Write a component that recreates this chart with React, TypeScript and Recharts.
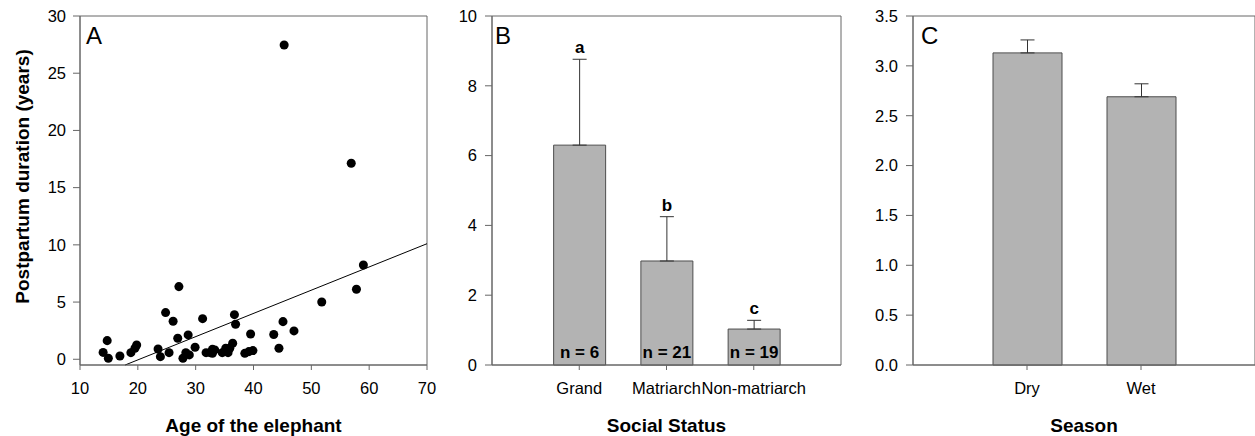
import {
  ScatterChart,
  Scatter,
  ComposedChart,
  Bar,
  ErrorBar,
  LabelList,
  XAxis,
  YAxis,
  ZAxis,
  ReferenceArea,
  ReferenceLine,
} from "recharts";

const FONT = "'Liberation Sans', Arial, Helvetica, sans-serif";
const AXIS = "#666";
const BAR_FILL = "#b3b3b3";
const BAR_STROKE = "#4d4d4d";

// Panel A: postpartum duration vs age
const ages = [
  14.0, 14.7, 14.9, 16.9, 18.8, 19.5, 19.8, 23.5, 23.9, 24.8, 25.4, 26.1,
  27.1, 26.9, 27.8, 28.3, 28.7, 28.9, 29.9, 31.2, 31.8, 32.5, 32.9, 32.9,
  33.3, 34.6, 35.2, 35.6, 35.9, 36.4, 36.7, 36.9, 38.5, 39.2, 39.5, 39.9,
  43.5, 44.4, 45.1, 45.3, 47.0, 51.8, 56.9, 57.8, 59.0,
];
const durations = [
  0.6, 1.63, 0.09, 0.29, 0.58, 0.96, 1.25, 0.9, 0.23, 4.08, 0.58, 3.32,
  6.35, 1.84, 0.09, 0.58, 2.13, 0.38, 1.05, 3.55, 0.58, 0.58, 0.87, 0.52,
  0.82, 0.58, 0.96, 0.58, 0.96, 1.4, 3.9, 3.06, 0.52, 0.67, 2.21, 0.76,
  2.16, 0.96, 3.29, 27.47, 2.48, 5.01, 17.13, 6.12, 8.24,
];
const fitLine = [
  { age: 17.8, duration: -0.5 },
  { age: 70, duration: 10.1 },
];
const ageTicks = [10, 20, 30, 40, 50, 60, 70];
const durationTicks = [0, 5, 10, 15, 20, 25, 30];

// Panel B: social status
const statusLabels = ["Grand", "Matriarch", "Non-matriarch"];
const statusMeans = [6.3, 2.98, 1.03];
const statusErrors = [2.46, 1.27, 0.25];
const statusN = [6, 21, 19];
const statusGroups = ["a", "b", "c"];
const statusTicks = [0, 2, 4, 6, 8, 10];

// Panel C: season
const seasonLabels = ["Dry", "Wet"];
const seasonMeans = [3.13, 2.69];
const seasonErrors = [0.13, 0.13];
const seasonTicks = [0, 0.5, 1, 1.5, 2, 2.5, 3, 3.5];

const scatterData = ages.map((age, i) => ({ age, duration: durations[i] }));

const statusData = statusLabels.map((name, i) => ({
  pos: i + 1,
  name,
  mean: statusMeans[i],
  err: [0, statusErrors[i]],
  n: statusN[i],
  group: statusGroups[i],
}));

const seasonData = seasonLabels.map((name, i) => ({
  pos: i + 1,
  name,
  mean: seasonMeans[i],
  err: [0, seasonErrors[i]],
}));

const tickStyle = { fill: "#000", fontSize: 16.5, fontFamily: FONT };
const titleStyle = { fill: "#000", fontSize: 19, fontWeight: "bold", fontFamily: FONT };

const panelLabel = (value: string, dx: number) => ({
  value,
  position: "insideTopLeft" as const,
  offset: 0,
  dx,
  dy: 11,
  fontSize: 24,
  fill: "#000",
  fontFamily: FONT,
});

const GroupLetter = (props: any) => {
  const vb = props.viewBox || props;
  const i = props.index ?? 0;
  const errPx = (vb.height * statusErrors[i]) / statusMeans[i];
  return (
    <text
      x={vb.x + vb.width / 2}
      y={vb.y - errPx - 6}
      textAnchor="middle"
      fontSize={17}
      fontWeight="bold"
      fontFamily={FONT}
      fill="#000"
    >
      {props.value}
    </text>
  );
};

const PanelA = () => (
  <ScatterChart
    width={440}
    height={436}
    margin={{ top: 16, right: 13, bottom: 0, left: 0 }}
  >
    <ReferenceArea
      x1={10}
      x2={70}
      y1={-0.5}
      y2={30}
      fill="none"
      stroke={AXIS}
      label={panelLabel("A", 6)}
    />
    <XAxis
      type="number"
      dataKey="age"
      domain={[10, 70]}
      ticks={ageTicks}
      height={71}
      tickSize={5}
      tickMargin={12}
      stroke={AXIS}
      tick={tickStyle}
      interval={0}
      label={{ value: "Age of the elephant", position: "insideBottom", offset: 4, style: titleStyle }}
    />
    <YAxis
      type="number"
      dataKey="duration"
      domain={[-0.5, 30]}
      ticks={durationTicks}
      width={80}
      tickSize={7}
      tickMargin={7}
      stroke={AXIS}
      tick={tickStyle}
      interval={0}
      label={{
        value: "Postpartum duration  (years)",
        angle: -90,
        position: "insideLeft",
        offset: 22,
        dy: -14,
        style: { ...titleStyle, textAnchor: "middle", whiteSpace: "pre" },
      }}
    />
    <ZAxis range={[56, 56]} />
    <ReferenceLine
      segment={fitLine.map((p) => ({ x: p.age, y: p.duration }))}
      stroke="#000"
      strokeWidth={1}
    />
    <Scatter data={scatterData} fill="#000" shape="circle" isAnimationActive={false} />
  </ScatterChart>
);

const PanelB = () => (
  <ComposedChart
    width={443}
    height={436}
    data={statusData}
    margin={{ top: 16, right: 2, bottom: 0, left: 0 }}
  >
    <ReferenceArea
      x1={0}
      x2={4}
      y1={0}
      y2={10}
      fill="none"
      stroke={AXIS}
      label={panelLabel("B", 3)}
    />
    <XAxis
      type="number"
      dataKey="pos"
      domain={[0, 4]}
      ticks={[1, 2, 3]}
      tickFormatter={(v: number) => statusLabels[v - 1] ?? ""}
      height={71}
      tickSize={5}
      tickMargin={12}
      stroke={AXIS}
      tick={tickStyle}
      interval={0}
      label={{ value: "Social Status", position: "insideBottom", offset: 4, style: titleStyle }}
    />
    <YAxis
      type="number"
      domain={[0, 10]}
      ticks={statusTicks}
      width={92}
      tickSize={7}
      tickMargin={8}
      stroke={AXIS}
      tick={tickStyle}
      interval={0}
    />
    <Bar
      dataKey="mean"
      barSize={52}
      fill={BAR_FILL}
      stroke={BAR_STROKE}
      strokeWidth={1}
      isAnimationActive={false}
    >
      <ErrorBar dataKey="err" width={7} stroke="#333" strokeWidth={1} direction="y" />
      <LabelList
        dataKey="n"
        position="insideBottom"
        offset={7}
        formatter={(v: any) => `n = ${v}`}
        fill="#000"
        fontSize={17}
        fontWeight="bold"
        fontFamily={FONT}
      />
      <LabelList dataKey="group" content={GroupLetter} />
    </Bar>
  </ComposedChart>
);

const PanelC = () => (
  <ComposedChart
    width={437}
    height={436}
    data={seasonData}
    margin={{ top: 16, right: 2, bottom: 0, left: 0 }}
  >
    <ReferenceArea
      x1={0}
      x2={3}
      y1={0}
      y2={3.5}
      fill="none"
      stroke={AXIS}
      label={panelLabel("C", 8)}
    />
    <XAxis
      type="number"
      dataKey="pos"
      domain={[0, 3]}
      ticks={[1, 2]}
      tickFormatter={(v: number) => seasonLabels[v - 1] ?? ""}
      height={71}
      tickSize={5}
      tickMargin={12}
      stroke={AXIS}
      tick={tickStyle}
      interval={0}
      label={{ value: "Season", position: "insideBottom", offset: 4, style: titleStyle }}
    />
    <YAxis
      type="number"
      domain={[0, 3.5]}
      ticks={seasonTicks}
      tickFormatter={(v: number) => v.toFixed(1)}
      width={93}
      tickSize={7}
      tickMargin={8}
      stroke={AXIS}
      tick={tickStyle}
      interval={0}
    />
    <Bar
      dataKey="mean"
      barSize={69}
      fill={BAR_FILL}
      stroke={BAR_STROKE}
      strokeWidth={1}
      isAnimationActive={false}
    >
      <ErrorBar dataKey="err" width={7} stroke="#333" strokeWidth={1} direction="y" />
    </Bar>
  </ComposedChart>
);

export default function App() {
  return (
    <div
      style={{
        position: "absolute",
        left: 0,
        top: 0,
        width: 1255,
        height: 436,
        overflow: "hidden",
        background: "#fff",
        fontFamily: FONT,
      }}
    >
      <div style={{ position: "absolute", left: 0, top: 0 }}>
        <PanelA />
      </div>
      <div style={{ position: "absolute", left: 400, top: 0 }}>
        <PanelB />
      </div>
      <div style={{ position: "absolute", left: 820, top: 0 }}>
        <PanelC />
      </div>
    </div>
  );
}
